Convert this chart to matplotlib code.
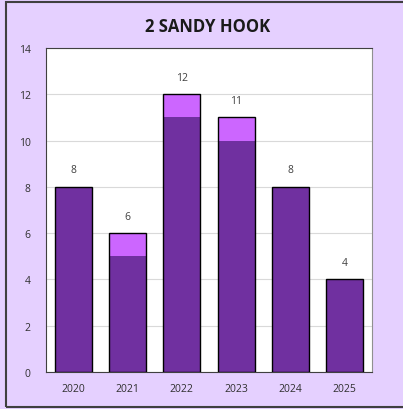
import numpy as np
import matplotlib
matplotlib.use('Agg')
from matplotlib import pyplot as plt
from matplotlib.patches import Rectangle

years = ['2020', '2021', '2022', '2023', '2024', '2025']
base = [8, 5, 11, 10, 8, 4]
extra = [0, 1, 1, 1, 0, 0]
totals = [b + e for b, e in zip(base, extra)]

bg = '#E5D0FF'
dark = '#7030A0'
light = '#CC66FF'

plt.rcParams['font.family'] = ['Open Sans', 'DejaVu Sans']

fig = plt.figure(figsize=(4.03, 4.10), dpi=100)
fig.patch.set_facecolor(bg)
fig.patches.append(Rectangle((6/403, 2/410), 1.2, 405/410, transform=fig.transFigure,
                             fill=False, edgecolor='#404040', linewidth=1.5))

ax = fig.add_axes([46/403, 1 - 373/410, 326/403, 324/410])
ax.set_facecolor('white')
x = np.arange(len(years))
w = 0.68
ax.bar(x, base, w, color=dark, linewidth=0, zorder=2)
ax.bar(x, extra, w, bottom=base, color=light, linewidth=0, zorder=2)
ax.bar(x, totals, w, fill=False, edgecolor='black', linewidth=1, zorder=3)
for xi, t in zip(x, totals):
    ax.text(xi, t + 0.5, str(t), ha='center', va='bottom', fontsize=7.5, color='#404040')

ax.set_xlim(-0.5, len(years) - 0.5)
ax.set_ylim(0, 14)
ax.set_yticks(range(0, 15, 2))
ax.set_xticks(x)
ax.set_xticklabels(years)
ax.tick_params(axis='both', length=0, labelsize=7.5, colors='#303030')
ax.tick_params(axis='y', pad=11)
ax.tick_params(axis='x', pad=8)
ax.yaxis.grid(True, color='#D9D9D9', linewidth=0.8, zorder=0)
ax.set_axisbelow(True)
for side in ['left', 'bottom', 'top']:
    ax.spines[side].set_color('#404040')
ax.spines['right'].set_color('#909090')

fig.text(208/403, 1 - 27/410, '2 SANDY HOOK', ha='center', va='center',
         fontsize=12, fontweight='bold', color='#1a1a1a')

fig.savefig('out.png', dpi=100, facecolor=bg)
